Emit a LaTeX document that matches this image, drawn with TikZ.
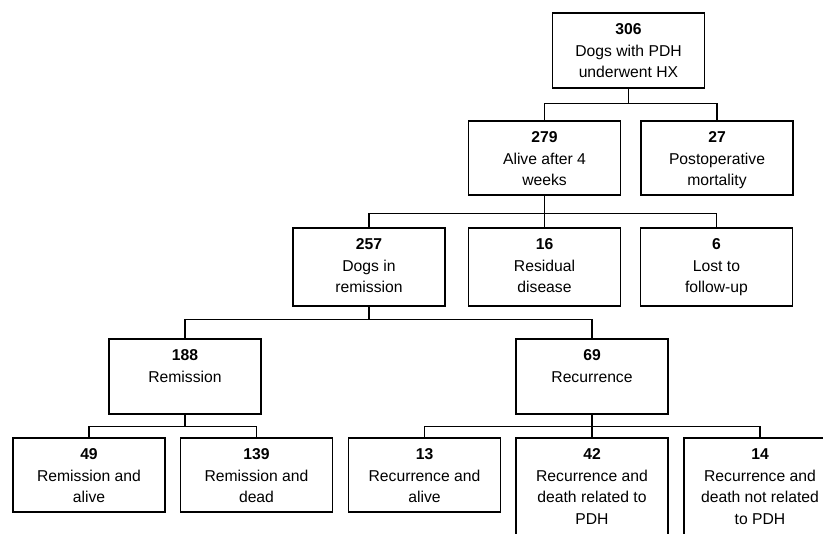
\documentclass[tikz,border=0pt]{standalone}
\usepackage{fontspec}
\setmainfont{Liberation Sans}
\usetikzlibrary{positioning}

\tikzset{
  flowbox/.style={draw, line width=1.6pt, inner sep=0pt, minimum width=152pt, anchor=north},
  flowline/.style={line width=1.6pt},
}
\newcommand{\flowtext}[3][75pt]{\parbox[c][#1][t]{148pt}{\centering\vspace*{7pt}\strut\textbf{#2}\\#3}}

\begin{document}
\begin{tikzpicture}[x=1pt, y=-1pt, font=\fontsize{15.7}{21.5}\selectfont]
    \clip (0,0) rectangle (823,534);

    % Start
    \node[flowbox] (n306) at (628.5,12) {\flowtext{306}{Dogs with PDH\\underwent HX}};

    % After surgery
    \node[flowbox] (n279) at (544.5,120) {\flowtext[74pt]{279}{Alive after 4\\weeks}};
    \node[flowbox] (n27) at (717,120) {\flowtext[74pt]{27}{Postoperative\\mortality}};

    % Outcome at 4 weeks
    \node[flowbox] (n257) at (369,227) {\flowtext[78pt]{257}{Dogs in\\remission}};
    \node[flowbox] (n16) at (544.5,227) {\flowtext[78pt]{16}{Residual\\disease}};
    \node[flowbox] (n6) at (716.5,227) {\flowtext[78pt]{6}{Lost to\\follow-up}};

    % Long term
    \node[flowbox] (n188) at (185,338) {\flowtext{188}{Remission}};
    \node[flowbox] (n69) at (592,338) {\flowtext{69}{Recurrence}};

    % Final outcome
    \node[flowbox] (n49) at (89,437) {\flowtext[74pt]{49}{Remission and\\alive}};
    \node[flowbox] (n139) at (256.5,437) {\flowtext[74pt]{139}{Remission and\\dead}};
    \node[flowbox] (n13) at (424.5,437) {\flowtext[74pt]{13}{Recurrence and\\alive}};
    \node[flowbox] (n42) at (592,437) {\flowtext[110pt]{42}{Recurrence and\\death related to\\PDH}};
    \node[flowbox] (n14) at (760,437) {\flowtext[110pt]{14}{Recurrence and\\death not related\\to PDH}};

    % Connections
    \draw[flowline] (n306.south) -- ++(0,15) -| (n279.north);
    \draw[flowline] (n306.south) -- ++(0,15) -| (n27.north);
    \draw[flowline] (n279.south) -- ++(0,18) -| (n257.north);
    \draw[flowline] (n279.south) -- ++(0,18) -| (n16.north);
    \draw[flowline] (n279.south) -- ++(0,18) -| (n6.north);
    \draw[flowline] (n257.south) -- ++(0,13) -| (n188.north);
    \draw[flowline] (n257.south) -- ++(0,13) -| (n69.north);
    \draw[flowline] (n188.south) -- ++(0,12) -| (n49.north);
    \draw[flowline] (n188.south) -- ++(0,12) -| (n139.north);
    \draw[flowline] (n69.south) -- ++(0,12) -| (n13.north);
    \draw[flowline] (n69.south) -- ++(0,12) -| (n42.north);
    \draw[flowline] (n69.south) -- ++(0,12) -| (n14.north);
\end{tikzpicture}
\end{document}
